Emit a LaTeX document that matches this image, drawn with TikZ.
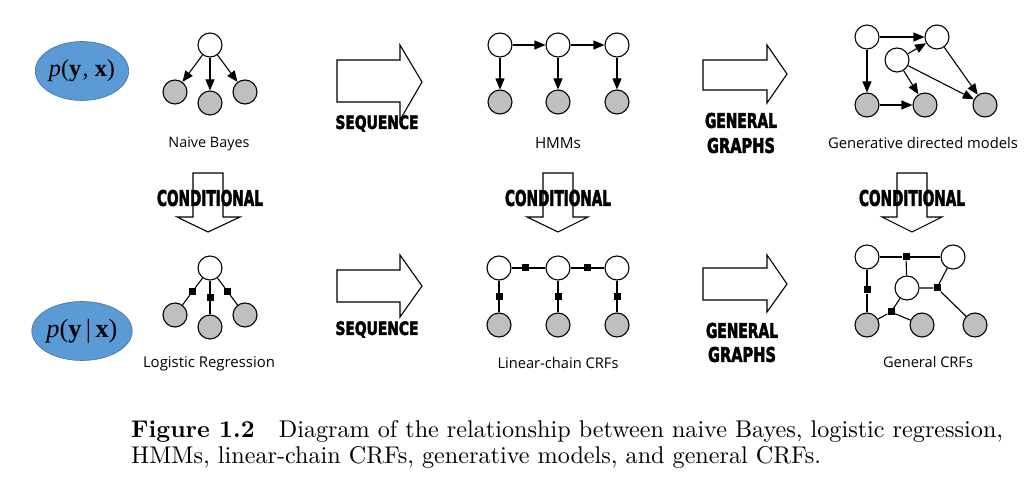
\documentclass[tikz,border=0pt]{standalone}
\usepackage{fontspec}
\usepackage{graphicx}
\usetikzlibrary{arrows.meta,calc,shapes.geometric}
\newfontfamily\lblfont{Open Sans}
\newfontfamily\bigfont{DejaVu Sans}[BoldFeatures={FakeBold=3}]
\newfontfamily\timesfont{Liberation Serif}
\definecolor{ellfill}{RGB}{91,155,213}
\definecolor{elldraw}{RGB}{65,113,170}
\newcommand\bw[3]{\resizebox{#1}{#2}{\bigfont\bfseries #3}}
\newcommand\lw[2]{\resizebox{#1}{!}{\lblfont #2}}
\newsavebox\capA
\newsavebox\capB
\begin{document}
\sbox\capA{\textbf{Figure 1.2}\quad Diagram of the relationship between naive Bayes, logistic regression,}
\sbox\capB{HMMs, linear-chain CRFs, generative models, and general CRFs.}
\begin{tikzpicture}[x=1pt,y=-1pt,
 hid/.style={circle,draw,fill=white,minimum size=24pt,inner sep=0pt,line width=1.1pt},
 obs/.style={hid,fill=gray!50},
 fac/.style={rectangle,fill=black,minimum size=7pt,inner sep=0pt},
 arr/.style={-{Triangle[length=11pt,width=9pt]},line width=1.1pt},
 lnk/.style={line width=1.1pt},
 bigarrow/.style={draw,fill=white,line width=1.1pt,line join=miter},
 lbl/.style={inner sep=0pt,anchor=base},
 word/.style={inner sep=0pt},
 dist/.style={ellipse,fill=ellfill,draw=elldraw,line width=0.6pt,minimum width=78pt,minimum height=59pt,inner sep=0pt}]
\useasboundingbox (0,0) rectangle (1034,486);
\fill[white] (0,0) rectangle (1034,486);

% distributions
\node[dist] (pj) at (82,71) {\resizebox{66pt}{!}{\timesfont{\itshape p}(\textbf{y}\kern0.5pt, \textbf{x})}};
\node[dist] (pc) at (82,331) {\resizebox{71pt}{!}{\timesfont{\itshape p}(\textbf{y}\,|\,\textbf{x})}};

% big right arrows
\draw[bigarrow] (337,60) -- (400,60) -- (400,45) -- (422,82) -- (400,120) -- (400,102) -- (337,102) -- cycle;
\draw[bigarrow] (337,270) -- (400,270) -- (400,255) -- (422,286) -- (400,317) -- (400,302) -- (337,302) -- cycle;
\draw[bigarrow] (703,60) -- (767,60) -- (767,45) -- (787,74) -- (767,103) -- (767,90) -- (703,90) -- cycle;
\draw[bigarrow] (703,268) -- (767,268) -- (767,255) -- (787,284) -- (767,312) -- (767,300) -- (703,300) -- cycle;
% big down arrows
\draw[bigarrow] (193,173) -- (223,173) -- (223,217) -- (240,217) -- (208,232) -- (177,217) -- (193,217) -- cycle;
\draw[bigarrow] (543,173) -- (573,173) -- (573,217) -- (588,217) -- (558,232) -- (527,217) -- (543,217) -- cycle;
\draw[bigarrow] (897,173) -- (927,173) -- (927,217) -- (942,217) -- (912,232) -- (882,217) -- (897,217) -- cycle;

% arrow words
\node[word] (seq1) at (377,123.5) {\bw{83pt}{13.5pt}{SEQUENCE}};
\node[word] (seq2) at (377,329.5) {\bw{83pt}{13.5pt}{SEQUENCE}};
\node[word] (gen1) at (741,120.5) {\bw{72pt}{15pt}{GENERAL}};
\node[word] (gra1) at (741,145.5) {\bw{68pt}{15pt}{GRAPHS}};
\node[word] (gen2) at (742,330.5) {\bw{72pt}{15pt}{GENERAL}};
\node[word] (gra2) at (742,354.5) {\bw{68pt}{15pt}{GRAPHS}};
\node[word] (con1) at (210,198) {\bw{106pt}{16pt}{CONDITIONAL}};
\node[word] (con2) at (558,198) {\bw{106pt}{16pt}{CONDITIONAL}};
\node[word] (con3) at (912,198) {\bw{106pt}{16pt}{CONDITIONAL}};

% Naive Bayes
\node[hid] (nbt) at (210,45) {};
\node[obs] (nbl) at (175,92) {};
\node[obs] (nbm) at (210,103) {};
\node[obs] (nbr) at (245,92) {};
\draw[arr] (nbt) -- (nbl);
\draw[arr] (nbt) -- (nbm);
\draw[arr] (nbt) -- (nbr);
\node[lbl] (nblab) at (209,148) {\lw{81pt}{Naive Bayes}};

% HMMs
\node[hid] (h1) at (500,45) {};
\node[hid] (h2) at (558,45) {};
\node[hid] (h3) at (617,45) {};
\node[obs] (o1) at (500,102) {};
\node[obs] (o2) at (558,102) {};
\node[obs] (o3) at (617,102) {};
\draw[arr] (h1) -- (h2);
\draw[arr] (h2) -- (h3);
\draw[arr] (h1) -- (o1);
\draw[arr] (h2) -- (o2);
\draw[arr] (h3) -- (o3);
\node[lbl] (hmmlab) at (558,149) {\lw{46pt}{HMMs}};

% Generative directed models
\node[hid] (ga) at (867,37) {};
\node[hid] (gb) at (937,37) {};
\node[hid] (gc) at (897,60) {};
\node[obs] (gd) at (867,105) {};
\node[obs] (ge) at (925,105) {};
\node[obs] (gf) at (985,105) {};
\draw[arr] (ga) -- (gb);
\draw[arr] (ga) -- (gd);
\draw[arr] (gc) -- (gb);
\draw[arr] (gc) -- (ge);
\draw[arr] (gc) -- (gf);
\draw[arr] (gb) -- (gf);
\draw[arr] (gd) -- (ge);
\node[lbl] (gdmlab) at (923,149) {\lw{190pt}{Generative directed models}};

% Logistic regression
\node[hid] (lrt) at (210,268) {};
\node[obs] (lrl) at (175,315) {};
\node[obs] (lrm) at (210,327) {};
\node[obs] (lrr) at (245,315) {};
\node[fac] (lf1) at ($(lrt)!0.5!(lrl)$) {};
\node[fac] (lf2) at ($(lrt)!0.5!(lrm)$) {};
\node[fac] (lf3) at ($(lrt)!0.5!(lrr)$) {};
\draw[lnk] (lrt) -- (lf1) -- (lrl);
\draw[lnk] (lrt) -- (lf2) -- (lrm);
\draw[lnk] (lrt) -- (lf3) -- (lrr);
\node[lbl] (lrlab) at (209,368) {\lw{132pt}{Logistic Regression}};

% Linear-chain CRFs
\node[hid] (c1) at (499,268) {};
\node[hid] (c2) at (558,268) {};
\node[hid] (c3) at (617,268) {};
\node[obs] (d1) at (499,325) {};
\node[obs] (d2) at (558,325) {};
\node[obs] (d3) at (617,325) {};
\node[fac] (cf12) at ($(c1)!0.45!(c2)$) {};
\node[fac] (cf23) at ($(c2)!0.5!(c3)$) {};
\node[fac] (cv1) at ($(c1)!0.5!(d1)$) {};
\node[fac] (cv2) at ($(c2)!0.5!(d2)$) {};
\node[fac] (cv3) at ($(c3)!0.5!(d3)$) {};
\draw[lnk] (c1) -- (cf12) -- (c2);
\draw[lnk] (c2) -- (cf23) -- (c3);
\draw[lnk] (c1) -- (cv1) -- (d1);
\draw[lnk] (c2) -- (cv2) -- (d2);
\draw[lnk] (c3) -- (cv3) -- (d3);
\node[lbl] (lclab) at (558,369) {\lw{121pt}{Linear-chain CRFs}};

% General CRFs
\node[hid] (ka) at (867,257) {};
\node[hid] (kb) at (953,257) {};
\node[hid] (kc) at (907,288) {};
\node[obs] (kd) at (867,325) {};
\node[obs] (ke) at (922,325) {};
\node[obs] (kf) at (975,325) {};
\node[fac] (kf1) at (906,257) {};
\node[fac] (kf2) at (867,290) {};
\node[fac] (kf3) at (937,288) {};
\node[fac] (kf4) at (891,312) {};
\draw[lnk] (ka) -- (kf1) -- (kb);
\draw[lnk] (kf1) -- (kc);
\draw[lnk] (ka) -- (kf2) -- (kd);
\draw[lnk] (kc) -- (kf3) -- (kb);
\draw[lnk] (kf3) -- (kf);
\draw[lnk] (kc) -- (kf4) -- (kd);
\draw[lnk] (kf4) -- (ke);
\node[lbl] (gclab) at (928,368) {\lw{90pt}{General CRFs}};

% caption
\pgfmathsetmacro\capscale{872/\wd\capA}
\node[inner sep=0pt,anchor=base west] (capl1) at (131,437) {\scalebox{\capscale}{\usebox\capA}};
\node[inner sep=0pt,anchor=base west] (capl2) at (131,464) {\scalebox{\capscale}{\usebox\capB}};
\end{tikzpicture}
\end{document}
